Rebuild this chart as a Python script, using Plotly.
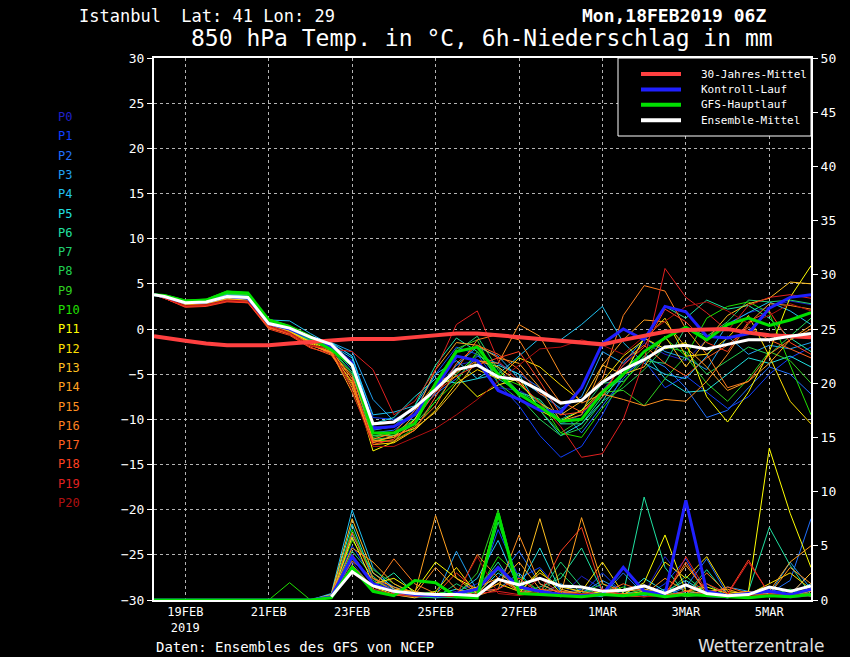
import pandas as pd
import plotly.graph_objects as go

# plot area in pixels (850x657 page)
L, R, T, B = 154, 811, 58, 600


def px(x):
    return (x - L) / (R - L)


def py(y):
    return (B - y) / (B - T)


# 18FEB 06Z, then every 12h from 18FEB 12Z to 6MAR 00Z
times = pd.DatetimeIndex(["2019-02-18 06:00"]).append(
    pd.date_range("2019-02-18 12:00", "2019-03-06 00:00", freq="12h"))

tick_dates = ["2019-02-19", "2019-02-21", "2019-02-23", "2019-02-25",
              "2019-02-27", "2019-03-01", "2019-03-03", "2019-03-05"]
tick_text = ["19FEB<br>2019", "21FEB", "23FEB", "25FEB",
             "27FEB", "1MAR", "3MAR", "5MAR"]

member_names = ["P%d" % i for i in range(21)]
member_colors = ["#2020c8", "#1040ff", "#2070ff", "#20a0f0", "#20c0f0",
                 "#20e0e0", "#20e0a0", "#20d070", "#20d050", "#30d020",
                 "#20e000", "#ffff00", "#ffe000", "#ffc020", "#ffa020",
                 "#ff9020", "#ff8020", "#ff6020", "#ff4020", "#e02020",
                 "#b01010"]

# 850 hPa temperature (degC), one row per ensemble member P0..P20
member_temp = [
    [3.8, 3.6, 2.9, 3.0, 3.7, 3.5, 0.6, 0.0, -1.0, -1.8, -3.5, -10.8, -10.9, -9.2, -6.5, -4.0, -3.5, -6.5, -6.8, -8.0, -10.5, -9.5, -6.8, -4.0, -1.5, -2.8, -3.5, -1.2, 0.6, 1.8, 2.4, 3.1, 2.7],
    [3.8, 3.5, 2.8, 2.9, 3.5, 3.3, 0.7, 0.2, -0.8, -1.6, -3.0, -9.8, -10.0, -9.0, -5.0, -2.0, -2.8, -6.0, -8.5, -11.8, -14.2, -13.0, -9.5, -5.0, -3.5, -6.5, -5.2, -7.0, -8.8, -7.5, -5.0, -3.2, -2.0],
    [3.8, 3.6, 3.0, 3.1, 3.8, 3.6, 0.4, -0.3, -1.2, -2.0, -4.5, -11.5, -11.2, -9.5, -7.2, -5.5, -3.0, -3.8, -5.0, -6.5, -9.0, -11.5, -8.5, -5.5, -3.0, -4.2, -6.5, -9.8, -9.0, -6.5, -4.2, -5.0, -7.2],
    [3.8, 3.6, 2.9, 3.0, 3.7, 3.6, 0.8, 0.3, -0.9, -1.5, -2.5, -7.8, -10.2, -10.0, -7.0, -4.0, -2.0, -3.0, -5.5, -7.2, -8.8, -7.5, -2.5, -3.8, -1.0, -2.5, -3.2, -4.5, -0.8, -2.8, -1.8, -2.2, -1.5],
    [3.8, 3.6, 3.0, 3.1, 3.7, 3.5, 1.0, 0.9, -0.5, -1.8, -3.2, -9.5, -9.2, -8.5, -5.0, -3.5, -5.5, -5.0, -3.0, -1.0, -1.2, 0.5, 2.5, -1.5, -3.8, -5.0, -5.5, -3.0, 0.5, 1.8, 3.0, 2.0, 0.5],
    [3.8, 3.6, 3.0, 3.1, 3.8, 3.6, 0.9, 0.2, -1.0, -1.5, -3.0, -10.5, -9.8, -7.5, -5.5, -6.0, -5.5, -4.0, -5.0, -9.0, -11.8, -10.5, -8.0, -4.5, -2.5, -5.5, -7.0, -6.8, -5.0, -3.2, -3.8, -3.0, -4.2],
    [3.8, 3.7, 3.1, 3.2, 3.9, 3.8, 0.9, 0.3, -0.9, -1.9, -4.0, -11.2, -10.8, -8.5, -4.0, -1.0, -2.5, -5.5, -7.0, -7.8, -10.5, -10.5, -7.5, -5.2, -1.0, 2.5, 1.2, 3.2, 2.2, 2.6, 1.2, -1.0, -2.5],
    [3.8, 3.6, 3.0, 3.1, 3.9, 3.7, 0.6, -0.2, -1.3, -2.2, -4.8, -11.8, -11.8, -10.0, -6.5, -2.5, -0.8, -4.5, -7.0, -8.2, -10.0, -9.0, -6.0, -5.8, -3.5, -3.8, 0.2, -0.8, 0.8, 3.2, 3.0, 3.2, 2.8],
    [3.8, 3.7, 3.0, 3.1, 3.9, 3.8, 0.7, 0.0, -1.2, -2.3, -5.0, -12.2, -12.0, -10.5, -8.0, -5.0, -2.8, -4.2, -7.5, -10.0, -11.8, -11.0, -8.0, -6.5, -4.5, -2.0, -2.5, -5.0, -3.5, -2.0, -2.8, -0.8, 1.2],
    [3.8, 3.7, 3.1, 3.2, 4.0, 3.8, 0.8, 0.1, -1.1, -2.0, -4.2, -12.0, -11.5, -10.0, -6.0, -2.2, -1.2, -6.0, -7.8, -9.0, -11.5, -10.0, -7.0, -6.8, -8.5, -5.5, -3.0, -6.0, -8.0, -5.5, -2.5, -3.5, -6.0],
    [3.8, 3.8, 3.2, 3.3, 4.2, 4.0, 1.1, 0.4, -0.7, -2.2, -3.8, -12.3, -12.4, -11.0, -8.0, -5.8, -2.5, -5.2, -6.2, -8.0, -11.5, -12.0, -8.8, -6.0, -3.0, -1.0, -3.0, 1.2, 2.5, 3.0, 1.8, -4.0, -9.5],
    [3.8, 3.5, 2.7, 2.8, 3.4, 3.2, 0.3, -0.3, -1.4, -2.4, -5.5, -13.5, -12.5, -10.0, -6.5, -5.2, -7.5, -6.2, -5.5, -9.0, -10.2, -9.0, -6.8, -5.2, -1.0, -2.2, -1.5, -7.5, -10.3, -7.0, -2.5, 3.5, 7.0],
    [3.8, 3.5, 2.7, 2.8, 3.3, 3.2, 0.4, -0.2, -1.5, -2.6, -6.0, -12.8, -12.6, -11.2, -9.0, -6.0, -4.5, -5.5, -3.2, -4.2, -6.2, -8.0, -5.8, -3.0, -1.2, 1.2, -3.0, -2.8, -1.0, 1.5, -3.0, -8.0, -10.5],
    [3.8, 3.5, 2.6, 2.7, 3.2, 3.1, 0.3, -0.4, -1.7, -2.7, -6.5, -12.6, -11.8, -11.0, -9.2, -6.5, -3.5, -4.2, -6.0, -8.2, -9.5, -8.0, -4.0, -5.0, -4.2, -0.8, -4.2, -1.2, 1.5, 2.8, 3.4, 5.2, 5.0],
    [3.8, 3.5, 2.6, 2.7, 3.3, 3.1, 0.2, -0.5, -1.8, -2.6, -7.0, -12.4, -12.0, -9.5, -4.5, -1.5, -1.8, -3.2, -3.8, -6.5, -10.2, -9.5, -4.0, -1.2, 1.0, 0.8, -2.0, -4.2, -6.8, -5.8, -3.8, -1.2, 0.4],
    [3.8, 3.5, 2.6, 2.7, 3.2, 3.0, 0.3, -0.3, -1.6, -2.8, -5.8, -12.2, -11.5, -9.0, -6.0, -4.8, -3.5, -3.8, 0.5, -0.8, -5.0, -8.2, -7.2, -7.8, -8.5, -7.8, -8.0, -5.8, -2.8, 0.6, 2.8, 2.6, 2.2],
    [3.8, 3.4, 2.5, 2.6, 3.1, 3.0, 0.1, -0.5, -1.8, -2.5, -5.2, -11.5, -12.0, -10.8, -8.5, -4.5, -1.2, -0.6, -1.2, -5.0, -8.2, -8.0, -5.5, 1.5, 4.8, 4.2, 0.0, -2.8, -6.5, -5.8, -2.8, -1.2, 0.0],
    [3.8, 3.4, 2.5, 2.6, 3.1, 2.9, 0.2, -0.6, -2.0, -2.9, -6.2, -12.5, -12.4, -11.2, -7.5, -3.8, -1.8, -2.8, -4.5, -7.2, -8.0, -9.2, -7.5, -3.5, -1.8, -3.8, -5.2, -3.2, -1.8, 0.2, -1.2, -2.2, -3.2],
    [3.8, 3.4, 2.4, 2.5, 3.0, 2.9, 0.0, -0.7, -2.1, -2.7, -5.5, -12.8, -12.2, -10.2, -7.0, -5.2, -4.0, -3.2, -2.5, -5.8, -9.5, -9.2, -7.0, -4.0, -2.0, 2.2, 0.8, -1.5, -2.5, 0.8, 2.0, -1.5, -2.8],
    [3.8, 3.4, 2.5, 2.6, 3.1, 3.0, 0.3, -0.5, -1.9, -2.2, -2.5, -4.5, -9.5, -8.0, -4.5, 0.5, 2.0, -3.5, -5.8, -8.2, -10.8, -14.2, -13.8, -10.0, -3.5, 6.7, 3.5, 1.8, -0.2, 2.6, 3.5, 3.8, 3.4],
    [3.8, 3.5, 2.6, 2.7, 3.2, 3.1, 0.4, -0.4, -1.8, -2.1, -6.8, -13.0, -13.0, -12.0, -11.0, -9.5, -7.8, -5.8, -4.0, -2.2, -2.0, -1.2, -1.8, -2.8, -0.8, 0.8, 2.5, 3.0, 2.0, 0.6, 1.5, 2.8, 2.0],
]

# 6h precipitation (mm), one row per ensemble member P0..P20
member_precip = [
    [0, 0, 0, 0, 0, 0, 0, 0, 0, 0.2, 3.5, 1.0, 0.5, 0.2, 0.4, 0.8, 1.5, 3.0, 1.2, 0.8, 0.3, 2.2, 1.0, 0.5, 0.6, 4.0, 1.5, 0.3, 0.2, 0.5, 0.8, 0.2, 0.4],
    [0, 0, 0, 0, 0, 0, 0, 0, 0, 0.5, 5.0, 2.0, 1.0, 0.5, 0.2, 0.3, 0.8, 6.5, 2.0, 3.0, 0.8, 0.5, 2.5, 0.6, 0.3, 1.5, 3.8, 0.4, 0.2, 0.6, 1.0, 0.5, 2.5],
    [0, 0, 0, 0, 0, 0, 0, 0, 0, 0.3, 4.0, 1.5, 0.8, 0.4, 0.3, 0.5, 0.2, 2.0, 4.5, 1.5, 0.6, 1.0, 0.4, 2.5, 0.5, 0.3, 1.2, 3.8, 0.5, 0.4, 0.6, 1.8, 7.5],
    [0, 0, 0, 0, 0, 0, 0, 0, 0, 0.4, 6.0, 2.5, 1.2, 0.6, 0.3, 4.5, 0.8, 1.0, 2.5, 0.5, 1.5, 0.6, 1.8, 0.8, 0.4, 1.0, 0.5, 0.6, 1.2, 0.8, 0.5, 3.5, 1.0],
    [0, 0, 0, 0, 0, 0, 0, 0, 0, 0.6, 8.3, 3.0, 1.0, 0.4, 0.2, 0.6, 2.0, 5.5, 1.0, 0.8, 0.4, 0.5, 0.3, 3.0, 0.6, 0.4, 0.8, 0.5, 0.3, 0.2, 0.6, 0.4, 0.8],
    [0, 0, 0, 0, 0, 0, 0, 0, 0, 0.5, 7.0, 2.0, 0.8, 0.3, 0.5, 1.0, 0.6, 2.5, 1.2, 4.8, 0.8, 0.3, 0.5, 0.4, 2.0, 0.8, 1.8, 0.6, 0.4, 0.5, 0.3, 0.6, 1.5],
    [0, 0, 0, 0, 0, 0, 0, 0, 0, 0.2, 3.0, 1.2, 2.5, 0.6, 0.4, 0.3, 1.0, 3.5, 0.6, 1.2, 2.0, 4.8, 0.8, 0.6, 9.5, 3.0, 0.5, 2.8, 0.4, 0.8, 6.7, 3.2, 0.5],
    [0, 0, 0, 0, 0, 0, 0, 0, 0, 0.3, 4.5, 2.2, 0.6, 0.3, 0.2, 1.5, 0.5, 7.2, 1.5, 0.6, 3.5, 1.2, 0.4, 0.5, 1.0, 0.6, 0.4, 1.5, 0.3, 0.2, 0.8, 0.4, 0.6],
    [0, 0, 0, 0, 0, 0, 0, 0, 0, 0.2, 3.8, 1.8, 0.9, 0.5, 0.3, 0.2, 0.6, 2.8, 0.8, 0.5, 2.5, 0.6, 1.5, 0.4, 0.8, 0.5, 2.2, 0.6, 0.5, 0.3, 0.4, 1.0, 0.3],
    [0, 0, 0, 0, 0, 0, 0, 0, 0, 0.4, 5.5, 2.8, 1.5, 0.5, 0.8, 0.4, 2.5, 8.3, 1.0, 0.6, 0.5, 0.8, 0.6, 1.2, 0.5, 0.8, 0.3, 0.5, 0.2, 0.6, 0.4, 0.3, 0.5],
    [0, 0, 0, 0, 0, 0, 0, 1.6, 0, 0.3, 6.5, 2.0, 0.8, 0.4, 0.6, 0.3, 0.8, 4.0, 2.2, 0.8, 0.3, 0.6, 0.5, 0.4, 0.8, 0.5, 0.6, 0.4, 0.3, 0.2, 0.5, 0.4, 0.6],
    [0, 0, 0, 0, 0, 0, 0, 0, 0, 0.3, 5.8, 1.5, 2.0, 0.8, 3.5, 2.0, 1.0, 8.0, 0.6, 2.8, 0.6, 0.4, 0.8, 0.5, 1.6, 6.0, 0.8, 1.2, 0.6, 0.8, 14.0, 8.0, 3.0],
    [0, 0, 0, 0, 0, 0, 0, 0, 0, 0.2, 3.2, 1.2, 0.5, 0.2, 0.8, 3.0, 0.5, 1.5, 0.8, 2.5, 1.2, 0.8, 3.5, 0.6, 0.5, 3.5, 2.0, 4.0, 0.8, 0.5, 1.5, 2.5, 1.0],
    [0, 0, 0, 0, 0, 0, 0, 0, 0, 0.5, 7.5, 2.5, 1.0, 0.8, 0.4, 0.6, 1.2, 2.0, 1.0, 7.5, 1.0, 0.5, 0.6, 0.5, 0.8, 0.5, 0.6, 0.4, 0.5, 0.3, 0.6, 0.5, 2.5],
    [0, 0, 0, 0, 0, 0, 0, 0, 0, 0.4, 4.8, 3.5, 1.5, 0.6, 7.8, 2.0, 0.6, 1.5, 3.5, 1.0, 0.5, 7.6, 1.5, 0.8, 1.0, 0.6, 3.2, 0.8, 1.0, 0.4, 0.8, 3.5, 5.0],
    [0, 0, 0, 0, 0, 0, 0, 0, 0, 0.3, 3.6, 2.0, 1.2, 0.5, 3.0, 1.0, 0.4, 1.0, 6.0, 1.5, 0.6, 0.8, 0.4, 0.6, 0.5, 2.0, 0.8, 0.6, 0.4, 0.8, 0.5, 3.0, 1.5],
    [0, 0, 0, 0, 0, 0, 0, 0, 0, 0.2, 2.8, 1.0, 3.8, 1.5, 0.6, 0.4, 4.2, 2.0, 0.8, 0.5, 0.8, 0.6, 0.5, 0.4, 0.3, 0.5, 0.4, 2.5, 0.6, 0.3, 0.4, 0.5, 0.8],
    [0, 0, 0, 0, 0, 0, 0, 0, 0, 0.4, 6.2, 2.0, 0.8, 0.5, 0.3, 0.6, 0.4, 3.0, 0.6, 1.0, 0.8, 0.5, 0.6, 1.5, 0.8, 0.4, 3.5, 0.5, 1.2, 0.6, 0.5, 0.4, 0.6],
    [0, 0, 0, 0, 0, 0, 0, 0, 0, 0.3, 4.2, 1.5, 0.6, 0.4, 0.5, 2.5, 0.8, 1.0, 2.0, 0.6, 4.5, 6.7, 0.8, 0.5, 0.6, 0.4, 0.8, 1.5, 0.6, 3.7, 0.5, 0.4, 0.6],
    [0, 0, 0, 0, 0, 0, 0, 0, 0, 0.2, 3.0, 1.0, 0.5, 0.3, 0.4, 0.3, 0.6, 0.8, 0.5, 2.0, 0.6, 0.4, 1.0, 0.5, 0.6, 0.3, 4.0, 0.8, 0.5, 3.5, 0.6, 0.3, 0.4],
    [0, 0, 0, 0, 0, 0, 0, 0, 0, 0.3, 2.5, 1.2, 0.8, 0.6, 0.3, 0.5, 4.0, 0.6, 0.4, 0.8, 0.5, 0.6, 0.4, 0.5, 0.3, 0.4, 0.5, 0.6, 0.3, 0.4, 0.5, 0.6, 0.4],
]

clim_temp = [-0.8, -1.0, -1.3, -1.6, -1.8, -1.8, -1.8, -1.6, -1.4, -1.2, -1.1, -1.1, -1.1, -0.9, -0.7, -0.5, -0.5,
             -0.7, -0.9, -1.1, -1.3, -1.6, -1.7, -1.2, -0.7, -0.3, -0.1, 0.0, 0.0, -0.4, -0.7, -0.8, -0.9]
control_temp = [3.8, 3.6, 2.9, 3.0, 3.6, 3.4, 0.6, 0.0, -1.0, -2.0, -3.8, -11.0, -10.8, -9.5, -6.5, -3.0, -3.5,
                -6.8, -7.8, -9.0, -9.2, -6.5, -1.6, 0.0, -1.2, 2.5, 1.9, -0.8, -1.0, -0.5, 2.3, 3.5, 3.8]
main_temp = [3.8, 3.7, 3.1, 3.2, 4.1, 4.0, 1.0, 0.2, -1.0, -2.3, -4.0, -11.5, -11.5, -10.5, -6.0, -2.5, -2.0,
             -5.0, -7.2, -8.6, -10.2, -10.0, -7.0, -5.0, -2.5, -1.0, 0.2, -1.2, 0.5, 1.2, 0.4, 1.0, 1.8]
mean_temp = [3.8, 3.6, 2.9, 3.0, 3.6, 3.5, 0.6, 0.1, -0.9, -1.7, -4.0, -10.5, -10.3, -8.7, -6.7, -4.5, -4.0,
             -5.3, -5.6, -6.8, -8.2, -7.9, -5.9, -4.5, -3.4, -2.0, -1.8, -2.2, -1.7, -1.2, -1.2, -0.8, -0.5]

control_precip = [0, 0, 0, 0, 0, 0, 0, 0, 0, 0.3, 4.0, 1.5, 0.8, 0.5, 0.4, 0.6, 1.0, 3.0, 1.2, 0.8, 0.5,
                  0.4, 0.5, 3.0, 0.8, 0.5, 9.2, 0.8, 0.4, 0.6, 0.8, 0.5, 1.0]
main_precip = [0, 0, 0, 0, 0, 0, 0, 0, 0, 0.2, 3.0, 0.8, 0.4, 1.8, 1.6, 0.3, 0.2, 8.0, 0.6, 0.5, 0.4,
               0.3, 0.5, 0.4, 0.6, 0.3, 0.5, 0.4, 0.3, 0.2, 0.4, 0.3, 0.5]
mean_precip = [None, None, None, None, None, None, None, None, None, 0.3, 2.6, 1.3, 0.8, 0.6, 0.5, 0.5, 0.4,
               1.9, 1.4, 2.0, 1.3, 1.2, 0.8, 0.9, 1.3, 0.6, 1.4, 0.6, 0.4, 0.5, 1.2, 0.8, 1.3]

legend_names = ["30-Jahres-Mittel", "Kontroll-Lauf", "GFS-Hauptlauf", "Ensemble-Mittel"]
legend_colors = ["#ff4040", "#2020ff", "#00e000", "#ffffff"]

MONO = "DejaVu Sans Mono"
SANS = "DejaVu Sans"

fig = go.Figure()

# precipitation (right axis)
for name, col, vals in zip(member_names, member_colors, member_precip):
    fig.add_trace(go.Scatter(x=times, y=vals, yaxis="y2", mode="lines", name=name,
                             line=dict(color=col, width=1), showlegend=False))
fig.add_trace(go.Scatter(x=times, y=control_precip, yaxis="y2", mode="lines",
                         line=dict(color=legend_colors[1], width=3), showlegend=False))
fig.add_trace(go.Scatter(x=times, y=main_precip, yaxis="y2", mode="lines",
                         line=dict(color=legend_colors[2], width=3), showlegend=False))
fig.add_trace(go.Scatter(x=times, y=mean_precip, yaxis="y2", mode="lines",
                         line=dict(color="white", width=3), showlegend=False))

# temperature (left axis)
for name, col, vals in zip(member_names, member_colors, member_temp):
    fig.add_trace(go.Scatter(x=times, y=vals, mode="lines", name=name,
                             line=dict(color=col, width=1), showlegend=False))
fig.add_trace(go.Scatter(x=times, y=control_temp, mode="lines",
                         line=dict(color=legend_colors[1], width=3), showlegend=False))
fig.add_trace(go.Scatter(x=times, y=main_temp, mode="lines",
                         line=dict(color=legend_colors[2], width=3), showlegend=False))
fig.add_trace(go.Scatter(x=times, y=clim_temp, mode="lines",
                         line=dict(color=legend_colors[0], width=4), showlegend=False))
fig.add_trace(go.Scatter(x=times, y=mean_temp, mode="lines",
                         line=dict(color="white", width=3), showlegend=False))

annotations = [
    dict(text="Istanbul  Lat: 41 Lon: 29", x=px(77), y=py(16), font=dict(size=17)),
    dict(text="<b>Mon,18FEB2019 06Z</b>", x=px(580), y=py(15), font=dict(size=18)),
    dict(text="850 hPa Temp. in \u00b0C, 6h-Niederschlag in mm", x=px(189), y=py(38),
         font=dict(size=23)),
    dict(text="Daten: Ensembles des GFS von NCEP", x=px(154), y=py(647), font=dict(size=14)),
    dict(text="Wetterzentrale", x=px(696), y=py(646), font=dict(size=17, color="#e0e0e0", family=SANS)),
]
for i, (name, col) in enumerate(zip(member_names, member_colors)):
    annotations.append(dict(text=name, x=px(56), y=py(117 + 19.3 * i), font=dict(size=12, color=col)))
shapes = [dict(type="rect", xref="paper", yref="paper", x0=px(618), x1=1, y0=py(136), y1=1,
               line=dict(color="white", width=1), fillcolor="black", layer="above")]
for i, (name, col) in enumerate(zip(legend_names, legend_colors)):
    yy = 74 + 15.4 * i
    shapes.append(dict(type="line", xref="paper", yref="paper", x0=px(641), x1=px(681),
                       y0=py(yy), y1=py(yy), line=dict(color=col, width=4), layer="above"))
    annotations.append(dict(text=name, x=px(699), y=py(yy), font=dict(size=11)))

for a in annotations:
    a.update(xref="paper", yref="paper", xanchor="left", yanchor="middle", showarrow=False)
    a["font"].setdefault("color", "white")
    a["font"].setdefault("family", MONO)

fig.update_layout(
    width=850, height=657,
    margin=dict(l=L, r=850 - R, t=T, b=657 - B),
    paper_bgcolor="black", plot_bgcolor="black",
    font=dict(family=MONO, color="white", size=12),
    showlegend=False,
    annotations=annotations,
    shapes=shapes,
    xaxis=dict(range=["2019-02-18 06:00", "2019-03-06 00:00"], tickvals=tick_dates, ticktext=tick_text,
               showgrid=True, gridcolor="#b4b4b4", griddash="dot", gridwidth=1,
               showline=True, linecolor="white", linewidth=2, mirror=True,
               ticks="", tickfont=dict(size=12), zeroline=False),
    yaxis=dict(range=[-30, 30], dtick=5, showgrid=True, gridcolor="#b4b4b4", griddash="dot",
               showline=True, linecolor="white", linewidth=2, mirror=True,
               ticks="outside", ticklen=5, tickcolor="white", tickfont=dict(size=13), zeroline=False),
    yaxis2=dict(range=[0, 50], dtick=5, overlaying="y", side="right", showgrid=False,
                showline=True, linecolor="white", linewidth=2,
                ticks="outside", ticklen=5, tickcolor="white", tickfont=dict(size=13), zeroline=False),
)

# the page body has a default margin; remove it so the figure sits at the window corner
fig.write_html("out.html", config={"displayModeBar": False},
               post_script="document.body.style.margin='0';")
